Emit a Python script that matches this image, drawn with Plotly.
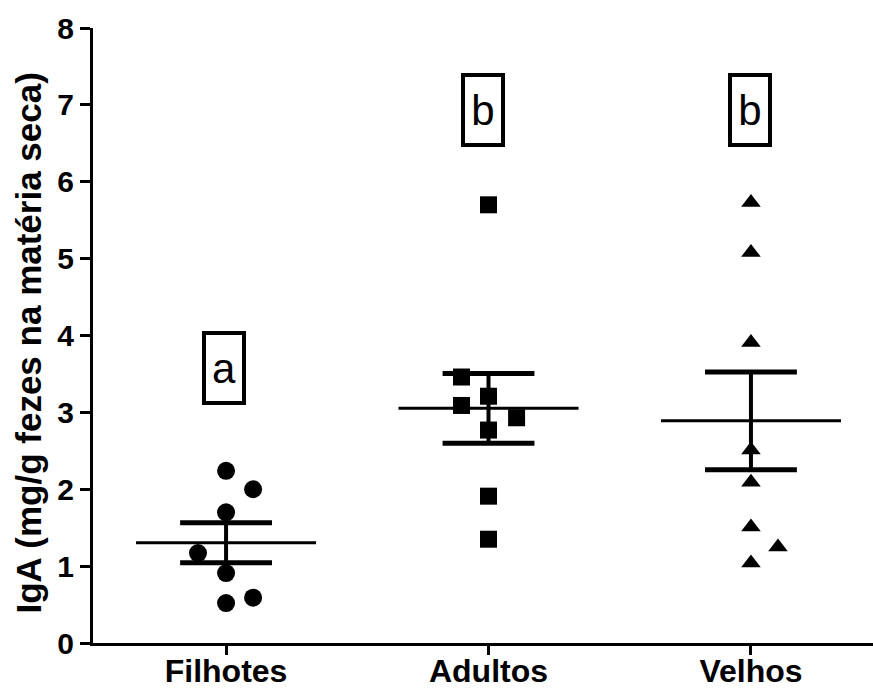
import numpy as np
import plotly.graph_objects as go

categories = ["Filhotes", "Adultos", "Velhos"]
filhotes = [2.24, 2.00, 1.70, 1.17, 0.91, 0.52, 0.59]
adultos = [5.70, 3.46, 3.09, 3.21, 2.93, 2.77, 1.91, 1.35]
velhos = [5.73, 5.08, 3.91, 2.51, 2.09, 1.51, 1.25, 1.04]
letters = ["a", "b", "b"]
y_ticks = [0, 1, 2, 3, 4, 5, 6, 7, 8]
y_title = "IgA (mg/g fezes na matéria seca)"

# horizontal jitter of the points (category units)
jit_f = [0, 0.103, 0, -0.107, 0, 0, 0.103]
jit_a = [0, -0.103, -0.103, 0, 0.107, 0, 0, 0]
jit_v = [0, 0, 0, 0, 0, 0, 0.103, 0]

groups = [filhotes, adultos, velhos]
jitters = [jit_f, jit_a, jit_v]
symbols = ["circle", "square", "triangle-up"]
msizes = [18, 17, 17]
letter_y = [3.58, 6.93, 6.93]
letter_dx = [-0.008, -0.02, -0.005]

FONT = "Liberation Sans, Arial, Helvetica, sans-serif"
fig = go.Figure()

for i, (vals, jit) in enumerate(zip(groups, jitters)):
    xs = [i + j for j in jit]
    fig.add_trace(go.Scatter(x=xs, y=vals, mode="markers",
                             marker=dict(symbol=symbols[i], size=msizes[i], color="black",
                                         line=dict(width=0)),
                             showlegend=False, hoverinfo="y"))
    arr = np.array(vals)
    m = arr.mean()
    sem = arr.std(ddof=1) / np.sqrt(len(arr))
    # mean line
    fig.add_trace(go.Scatter(x=[i - 0.343, i + 0.343], y=[m, m], mode="lines",
                             line=dict(color="black", width=3), showlegend=False, hoverinfo="skip"))
    # error bar vertical
    fig.add_trace(go.Scatter(x=[i, i], y=[m - sem, m + sem], mode="lines",
                             line=dict(color="black", width=4), showlegend=False, hoverinfo="skip"))
    for yy in (m - sem, m + sem):
        fig.add_trace(go.Scatter(x=[i - 0.175, i + 0.175], y=[yy, yy], mode="lines",
                                 line=dict(color="black", width=5), showlegend=False, hoverinfo="skip"))
    fig.add_annotation(x=i + letter_dx[i], y=letter_y[i], text=letters[i], showarrow=False,
                       font=dict(family=FONT, size=42, color="black"),
                       width=36, height=66, borderwidth=4, bordercolor="black", borderpad=0,
                       bgcolor="white", xanchor="center", yanchor="middle")

fig.add_annotation(xref="paper", yref="paper", x=0, y=0.5, xshift=-65, yshift=-8, text=y_title,
                   textangle=-90, showarrow=False, xanchor="center", yanchor="middle",
                   font=dict(family=FONT, size=35, color="black", weight="bold"))

fig.update_layout(
    width=873, height=690,
    margin=dict(l=93, r=0, t=28, b=47),
    plot_bgcolor="white", paper_bgcolor="white",
    font=dict(family=FONT, color="black"),
    xaxis=dict(range=[-0.507, 2.465], tickvals=[0, 1, 2], ticktext=categories,
               automargin=False,
               showline=True, linecolor="black", linewidth=3, ticks="outside",
               ticklen=9, tickwidth=3, tickcolor="black", showgrid=False, zeroline=False,
               ticklabelstandoff=-11,
               tickfont=dict(family=FONT, size=32, color="black", weight="bold")),
    yaxis=dict(range=[0, 8], tickvals=y_ticks, showline=True, linecolor="black", linewidth=3,
               automargin=False,
               ticks="outside", ticklen=10, tickwidth=3, tickcolor="black",
               showgrid=False, zeroline=False,
               tickfont=dict(family=FONT, size=30, color="black", weight="bold")),
)

fig.write_html("out.html", config={"displayModeBar": False},
               post_script="document.body.style.margin='0';document.body.style.padding='0';")
